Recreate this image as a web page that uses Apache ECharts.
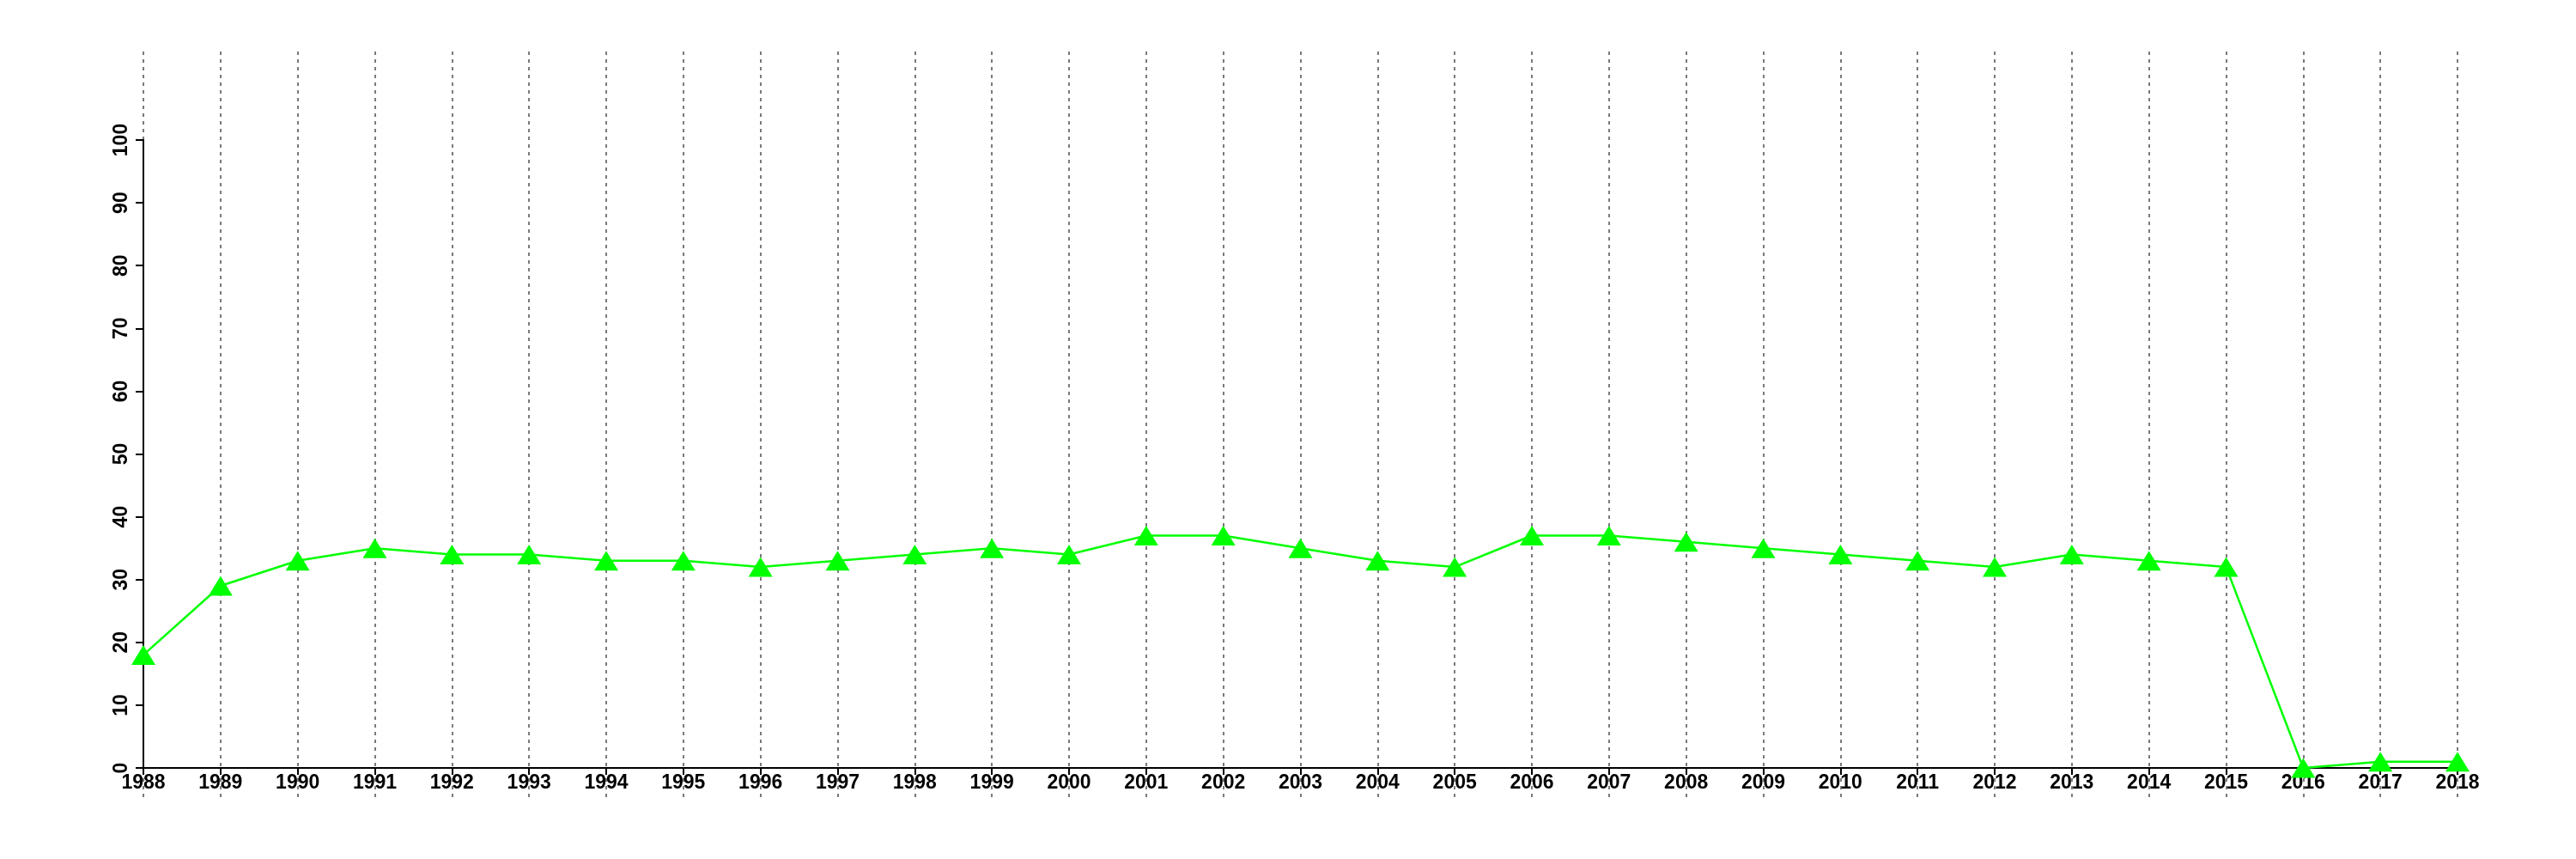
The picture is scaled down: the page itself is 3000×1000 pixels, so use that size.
<!DOCTYPE html>
<html>
<head>
<meta charset="utf-8">
<script src="https://cdn.jsdelivr.net/npm/echarts@6/dist/echarts.min.js"></script>
<style>
html,body{margin:0;padding:0;background:#fff;}
#chart{width:3000px;height:1000px;}
</style>
</head>
<body>
<div id="chart"></div>
<script>
const years = ['1988','1989','1990','1991','1992','1993','1994','1995','1996','1997','1998','1999','2000','2001','2002','2003','2004','2005','2006','2007','2008','2009','2010','2011','2012','2013','2014','2015','2016','2017','2018'];
const values = [18,29,33,35,34,34,33,33,32,33,34,35,34,37,37,35,33,32,37,37,36,35,34,33,32,34,33,32,0,1,1];
const yMin = 0, yMax = 100, yStep = 10;

const chart = echarts.init(document.getElementById('chart'));
const font = {fontFamily:'Liberation Sans', fontWeight:'bold', fontSize:23, color:'#000'};
chart.setOption({
  animation:false,
  backgroundColor:'#fff',
  grid:[
    {left:167, right:138, top:163, bottom:106},
    {left:167, right:138, top:60, bottom:72}
  ],
  xAxis:[
    {type:'category', gridIndex:0, data:years, boundaryGap:false,
     axisLine:{show:true, lineStyle:{color:'#000', width:2}},
     axisTick:{show:true, interval:0, length:8, lineStyle:{color:'#000', width:2}},
     axisLabel:Object.assign({interval:0, margin:6}, font),
     splitLine:{show:false}, z:3},
    {type:'category', gridIndex:1, data:years, boundaryGap:false,
     axisLine:{show:false}, axisTick:{show:false}, axisLabel:{show:false},
     splitLine:{show:true, interval:0, lineStyle:{color:'#7a7a7a', width:2, type:[4,5]}}, z:0}
  ],
  yAxis:[
    {type:'value', gridIndex:0, min:yMin, max:yMax, interval:yStep,
     axisLine:{show:true, lineStyle:{color:'#000', width:2}},
     axisTick:{show:true, length:9, lineStyle:{color:'#000', width:2}},
     axisLabel:Object.assign({rotate:90, margin:14}, font),
     splitLine:{show:false}, z:3},
    {type:'value', gridIndex:1, min:0, max:1, show:false, splitLine:{show:false}}
  ],
  series:[{
    type:'line', xAxisIndex:0, yAxisIndex:0, data:values,
    symbol:'triangle', symbolSize:[28,23], showAllSymbol:true, clip:false,
    lineStyle:{color:'#00ff00', width:2.5},
    itemStyle:{color:'#00ff00', borderWidth:0},
    z:5
  }]
});
</script>
</body>
</html>
